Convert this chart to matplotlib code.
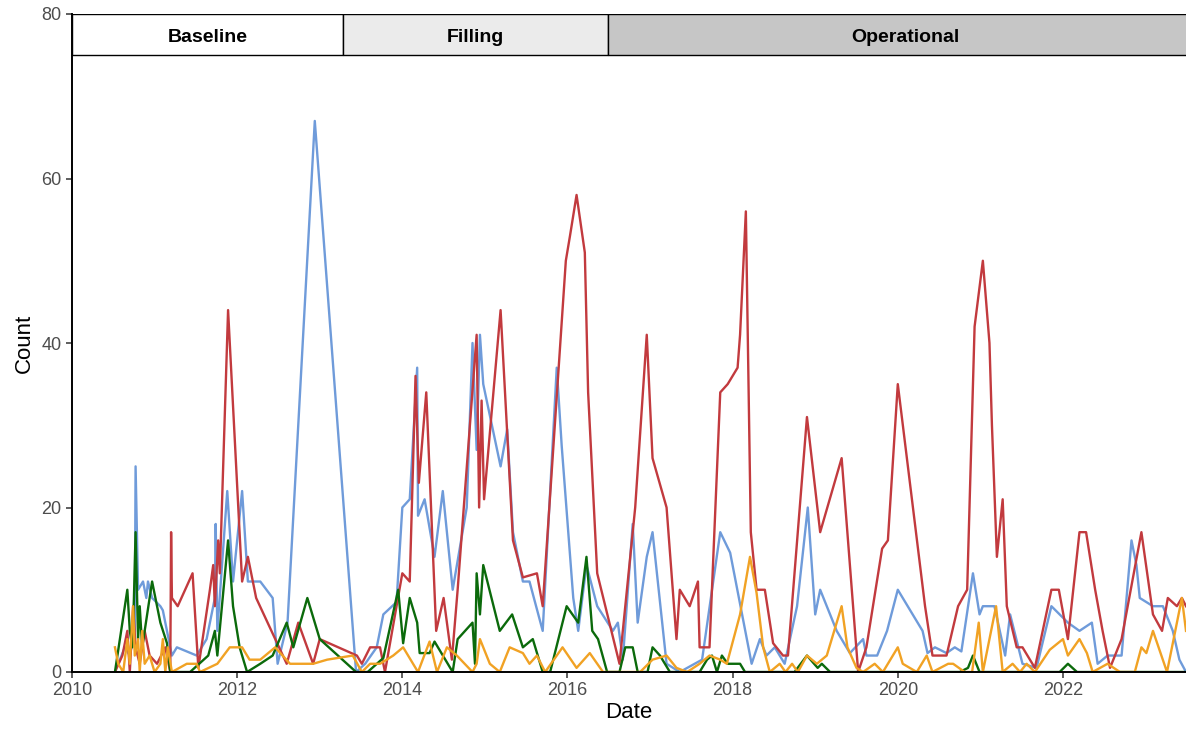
import matplotlib
matplotlib.use("Agg")
import matplotlib.pyplot as plt
from matplotlib.patches import Rectangle

plt.rcParams['font.family'] = ['Liberation Sans', 'DejaVu Sans']

# ---- data (decimal year, count) ----
red_x = [2010.52, 2010.61, 2010.67, 2010.70, 2010.74, 2010.77, 2010.82, 2010.88, 2010.94, 2011.03,
         2011.13, 2011.19, 2011.20, 2011.21, 2011.28, 2011.46, 2011.53, 2011.67, 2011.71, 2011.73,
         2011.77, 2011.79, 2011.89, 2012.06, 2012.13, 2012.23, 2012.60, 2012.74, 2012.92, 2013.00,
         2013.45, 2013.51, 2013.61, 2013.73, 2013.79, 2014.00, 2014.09, 2014.16, 2014.20, 2014.29,
         2014.41, 2014.50, 2014.60, 2014.67, 2014.90, 2014.93, 2014.96, 2014.99, 2015.19, 2015.34,
         2015.46, 2015.63, 2015.70, 2015.98, 2016.03, 2016.11, 2016.21, 2016.25, 2016.36, 2016.63,
         2016.82, 2016.96, 2017.03, 2017.20, 2017.32, 2017.36, 2017.48, 2017.58, 2017.60, 2017.72,
         2017.85, 2017.94, 2018.06, 2018.09, 2018.16, 2018.22, 2018.29, 2018.39, 2018.49, 2018.61,
         2018.67, 2018.90, 2019.06, 2019.32, 2019.52, 2019.62, 2019.81, 2019.88, 2020.00, 2020.33,
         2020.42, 2020.59, 2020.73, 2020.84, 2020.93, 2021.03, 2021.11, 2021.14, 2021.20, 2021.27,
         2021.32, 2021.44, 2021.51, 2021.66, 2021.86, 2021.95, 2022.06, 2022.20, 2022.28, 2022.39,
         2022.48, 2022.57, 2022.71, 2022.95, 2023.09, 2023.20, 2023.27, 2023.38, 2023.44, 2023.49]
red_y = [0, 2, 5, 0, 8, 3, 1, 5, 2, 1,
         3, 0, 17, 9, 8, 12, 0.5, 10, 13, 8,
         16, 12, 44, 11, 14, 9, 1, 6, 1, 4,
         2, 1, 3, 3, 0, 12, 11, 36, 23, 34,
         5, 9, 1.5, 10, 41, 20, 33, 21, 44, 16,
         11.5, 12, 8, 50, 53, 58, 51, 34, 12, 1,
         20, 41, 26, 20, 4, 10, 8, 11, 3, 3,
         34, 35, 37, 41, 56, 17, 10, 10, 3.5, 2,
         2, 31, 17, 26, 0, 3, 15, 16, 35, 8,
         2, 2, 8, 10, 42, 50, 40, 30, 14, 21,
         8, 3, 3, 0.5, 10, 10, 4, 17, 17, 10,
         5, 0.5, 4, 17, 7, 5, 9, 8, 9, 8]

blue_x = [2010.56, 2010.64, 2010.70, 2010.76, 2010.77, 2010.80, 2010.86, 2010.90, 2010.92, 2010.97,
          2011.07, 2011.10, 2011.15, 2011.21, 2011.27, 2011.51, 2011.63, 2011.73, 2011.74, 2011.76,
          2011.88, 2011.95, 2012.06, 2012.13, 2012.28, 2012.43, 2012.49, 2012.61, 2012.94, 2013.44,
          2013.55, 2013.69, 2013.77, 2013.93, 2014.00, 2014.09, 2014.18, 2014.19, 2014.27, 2014.39,
          2014.49, 2014.61, 2014.78, 2014.85, 2014.90, 2014.94, 2014.98, 2015.19, 2015.27, 2015.34,
          2015.46, 2015.54, 2015.70, 2015.87, 2015.93, 2016.07, 2016.13, 2016.23, 2016.36, 2016.55,
          2016.61, 2016.67, 2016.79, 2016.85, 2016.96, 2017.03, 2017.20, 2017.36, 2017.63, 2017.85,
          2017.97, 2018.23, 2018.33, 2018.41, 2018.51, 2018.63, 2018.78, 2018.91, 2019.00, 2019.06,
          2019.26, 2019.42, 2019.58, 2019.62, 2019.75, 2019.87, 2020.00, 2020.30, 2020.36, 2020.45,
          2020.59, 2020.69, 2020.77, 2020.91, 2020.99, 2021.03, 2021.17, 2021.30, 2021.36, 2021.51,
          2021.68, 2021.86, 2022.06, 2022.20, 2022.35, 2022.42, 2022.54, 2022.71, 2022.83, 2022.89,
          2022.93, 2023.09, 2023.21, 2023.33, 2023.41, 2023.49]
blue_y = [1, 3, 2, 5, 25, 10, 11, 9, 11, 9,
          8, 7.5, 5, 2, 3, 2, 4, 9, 18, 5,
          22, 11, 22, 11, 11, 9, 1, 6, 67, 0,
          1, 3, 7, 8.5, 20, 21, 37, 19, 21, 14,
          22, 10, 20, 40, 27, 41, 35, 25, 29.5, 17,
          11, 11, 5, 37, 27.5, 9, 5, 13, 8, 5,
          6, 1.5, 18, 6, 14, 17, 1, 0, 1.5, 17,
          14.5, 1, 4, 2, 3, 1, 8, 20, 7, 10,
          5, 2.3, 4, 2, 2, 5, 10, 5, 2.3, 3,
          2.3, 3, 2.5, 12, 7, 8, 8, 2, 7, 1,
          0.5, 8, 6, 5, 6, 1, 2, 2, 16, 13,
          9, 8, 8, 5, 1.5, 0]

green_x = [2010.52, 2010.67, 2010.70, 2010.73, 2010.75, 2010.77, 2010.80, 2010.82, 2010.85, 2010.97,
           2011.07, 2011.15, 2011.19, 2011.43, 2011.65, 2011.73, 2011.76, 2011.89, 2011.95, 2012.03,
           2012.12, 2012.28, 2012.43, 2012.60, 2012.68, 2012.85, 2013.00, 2013.44, 2013.58, 2013.77,
           2013.95, 2014.01, 2014.09, 2014.18, 2014.21, 2014.33, 2014.39, 2014.61, 2014.67, 2014.85,
           2014.88, 2014.90, 2014.94, 2014.98, 2015.18, 2015.33, 2015.46, 2015.58, 2015.70, 2015.79,
           2015.99, 2016.13, 2016.23, 2016.30, 2016.37, 2016.48, 2016.63, 2016.70, 2016.79, 2016.85,
           2016.97, 2017.03, 2017.12, 2017.24, 2017.60, 2017.69, 2017.75, 2017.81, 2017.87, 2017.94,
           2018.09, 2018.15, 2018.75, 2018.90, 2019.03, 2019.08, 2019.18, 2020.75, 2020.85, 2020.91,
           2020.99, 2021.96, 2022.06, 2022.17, 2023.49]
green_y = [0, 10, 5, 3, 9, 17, 4, 8, 3, 11,
           6, 3.5, 0, 0, 2, 5, 2, 16, 8, 3,
           0, 1, 2, 6, 3, 9, 4, 0, 0, 1.7,
           10, 3.5, 9, 6, 2.3, 2.3, 3.7, 0, 4, 6,
           1, 12, 7, 13, 5, 7, 3, 4, 0, 0,
           8, 6, 14, 5, 4, 0, 0, 3, 3, 0,
           0, 3, 2, 0, 0, 1.5, 2, 0, 2, 1,
           1, 0, 0, 2, 0.5, 1, 0, 0, 0.5, 2,
           0, 0, 1, 0, 0]

orange_x = [2010.52, 2010.56, 2010.62, 2010.67, 2010.70, 2010.74, 2010.76, 2010.80, 2010.82, 2010.85,
            2010.88, 2010.94, 2011.00, 2011.07, 2011.10, 2011.13, 2011.16, 2011.21, 2011.39, 2011.51,
            2011.55, 2011.76, 2011.91, 2012.06, 2012.15, 2012.28, 2012.46, 2012.64, 2012.92, 2013.09,
            2013.40, 2013.51, 2013.61, 2013.73, 2013.89, 2014.01, 2014.19, 2014.33, 2014.42, 2014.54,
            2014.66, 2014.85, 2014.90, 2014.94, 2015.06, 2015.18, 2015.30, 2015.46, 2015.54, 2015.63,
            2015.73, 2015.94, 2016.11, 2016.27, 2016.43, 2016.88, 2017.03, 2017.20, 2017.32, 2017.45,
            2017.60, 2017.72, 2017.85, 2017.93, 2018.09, 2018.21, 2018.29, 2018.37, 2018.45, 2018.57,
            2018.64, 2018.72, 2018.79, 2018.90, 2019.02, 2019.14, 2019.32, 2019.39, 2019.50, 2019.58,
            2019.72, 2019.82, 2020.00, 2020.06, 2020.23, 2020.35, 2020.42, 2020.61, 2020.67, 2020.81,
            2020.90, 2020.98, 2021.03, 2021.19, 2021.27, 2021.39, 2021.48, 2021.56, 2021.66, 2021.84,
            2022.00, 2022.06, 2022.20, 2022.29, 2022.36, 2022.45, 2022.54, 2022.69, 2022.87, 2022.95,
            2023.01, 2023.09, 2023.26, 2023.44, 2023.49]
orange_y = [3, 1, 0, 4, 1, 8, 2, 4, 0, 5,
            1, 2, 0, 1, 4, 0, 3, 0, 1, 1,
            0, 1, 3, 3, 1.5, 1.5, 3, 1, 1, 1.5,
            2, 0, 1, 1, 2, 3, 0, 3.7, 0, 3,
            2, 0, 1, 4, 1, 0, 3, 2.3, 1, 2,
            0, 3, 0.5, 2.3, 0, 0, 1.5, 2, 0.5, 0,
            1, 2, 1.5, 1, 7, 14, 9.6, 3, 0, 1,
            0, 1, 0, 2, 1, 2, 8, 3, 0.5, 0,
            1, 0, 3, 1, 0, 2, 0, 1, 1, 0,
            0, 6, 0, 8, 0, 1, 0, 1, 0, 2.7,
            4, 2, 4, 2.3, 0, 0.5, 1, 0, 0, 3,
            2.3, 5, 0, 9, 5]

phase_names = ["Baseline", "Filling", "Operational"]
phase_start = [2010.0, 2013.28, 2016.49]
phase_end = [2013.28, 2016.49, 2023.7]
phase_fill = ["#FFFFFF", "#EBEBEB", "#C6C6C6"]

x_ticks = [2010, 2012, 2014, 2016, 2018, 2020, 2022]
y_ticks = [0, 20, 40, 60, 80]

# ---- figure ----
fig = plt.figure(figsize=(11.86, 7.35), dpi=100)
ax = fig.add_axes([72 / 1186, 63 / 735, 1 - 72 / 1186, (672 - 14) / 735])

lw = 1.7
ax.plot(blue_x, blue_y, color="#6F9BDA", lw=lw, zorder=2)
ax.plot(red_x, red_y, color="#C23A3E", lw=lw, zorder=2)
ax.plot(green_x, green_y, color="#0B6A0B", lw=lw, zorder=2)
ax.plot(orange_x, orange_y, color="#F1A224", lw=lw, zorder=2)

for name, s, e, c in zip(phase_names, phase_start, phase_end, phase_fill):
    r = Rectangle((s, 75), e - s, 5, facecolor=c, edgecolor="black", lw=1.0, zorder=3, clip_on=True)
    ax.add_patch(r)
    ax.text((s + e) / 2, 77.2, name, ha="center", va="center", fontsize=14,
            fontweight="bold", color="black", zorder=4, clip_on=True)

ax.set_xlim(2010, 2023.49)
ax.set_ylim(0, 80)
ax.set_xticks(x_ticks)
ax.set_yticks(y_ticks)
for sp in ["top", "right"]:
    ax.spines[sp].set_visible(False)
for sp in ["left", "bottom"]:
    ax.spines[sp].set_linewidth(1.4)
    ax.spines[sp].set_color("black")
    ax.spines[sp].set_zorder(5)
ax.tick_params(axis="both", colors="#333333", labelcolor="#4D4D4D", labelsize=13,
               length=4, width=1.1)
ax.set_xlabel("Date", fontsize=16, color="black", labelpad=2)
ax.set_ylabel("Count", fontsize=16, color="black", labelpad=5)

fig.savefig("out.png", dpi=100)
